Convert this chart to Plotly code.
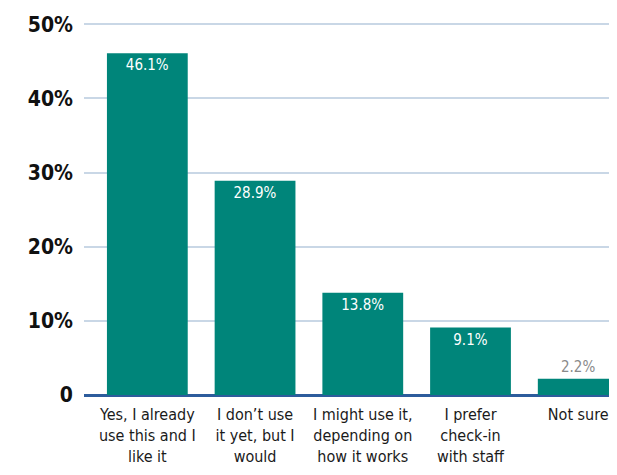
import plotly.graph_objects as go

categories = [
    "Yes, I already<br>use this and I<br>like it",
    "I don\u2019t use<br>it yet, but I<br>would",
    "I might use it,<br>depending on<br>how it works",
    "I prefer<br>check-in<br>with staff",
    "Not sure",
]
values = [46.1, 28.9, 13.8, 9.1, 2.2]
value_labels = ["46.1%", "28.9%", "13.8%", "9.1%", "2.2%"]
tick_vals = [0, 10, 20, 30, 40, 50]
tick_text = ["0", "10%", "20%", "30%", "40%", "50%"]

_FONT = "DejaVu Sans Condensed, Liberation Sans Narrow, sans-serif"
_TEAL = "#00857A"

fig = go.Figure(
    go.Bar(
        x=list(range(len(categories))),
        y=values,
        width=0.75,
        marker=dict(color=_TEAL, line=dict(width=0)),
        text=value_labels,
        textposition=["inside"] * 4 + ["outside"],
        insidetextanchor="end",
        textfont=dict(color=["white"] * 4 + ["#8A8A8A"], size=15, family=_FONT),
        cliponaxis=False,
        hoverinfo="skip",
    )
)

# page body has an 8px margin, so the figure is 8px smaller than the window
fig.update_layout(
    width=609,
    height=467,
    margin=dict(l=76, r=0, t=14, b=80),
    paper_bgcolor="white",
    plot_bgcolor="white",
    showlegend=False,
    font=dict(family=_FONT, color="#1A1A1A"),
    xaxis=dict(
        range=[-0.588, 4.36],
        tickvals=list(range(len(categories))),
        ticktext=categories,
        tickfont=dict(size=16, color="#1A1A1A", family=_FONT),
        showgrid=False,
        zeroline=False,
        showline=False,
        ticks="",
        ticklabelstandoff=8,
        automargin=False,
    ),
    yaxis=dict(
        range=[0, 50.3],
        tickvals=tick_vals,
        ticktext=tick_text,
        tickfont=dict(size=21, color="#111111", family=_FONT, weight="bold"),
        showgrid=True,
        gridcolor="#C9D7E6",
        gridwidth=1.5,
        zeroline=True,
        zerolinecolor="#2D5C9C",
        zerolinewidth=3,
        ticks="",
        ticklabelstandoff=10,
        automargin=False,
    ),
)

fig.write_html("out.html")
